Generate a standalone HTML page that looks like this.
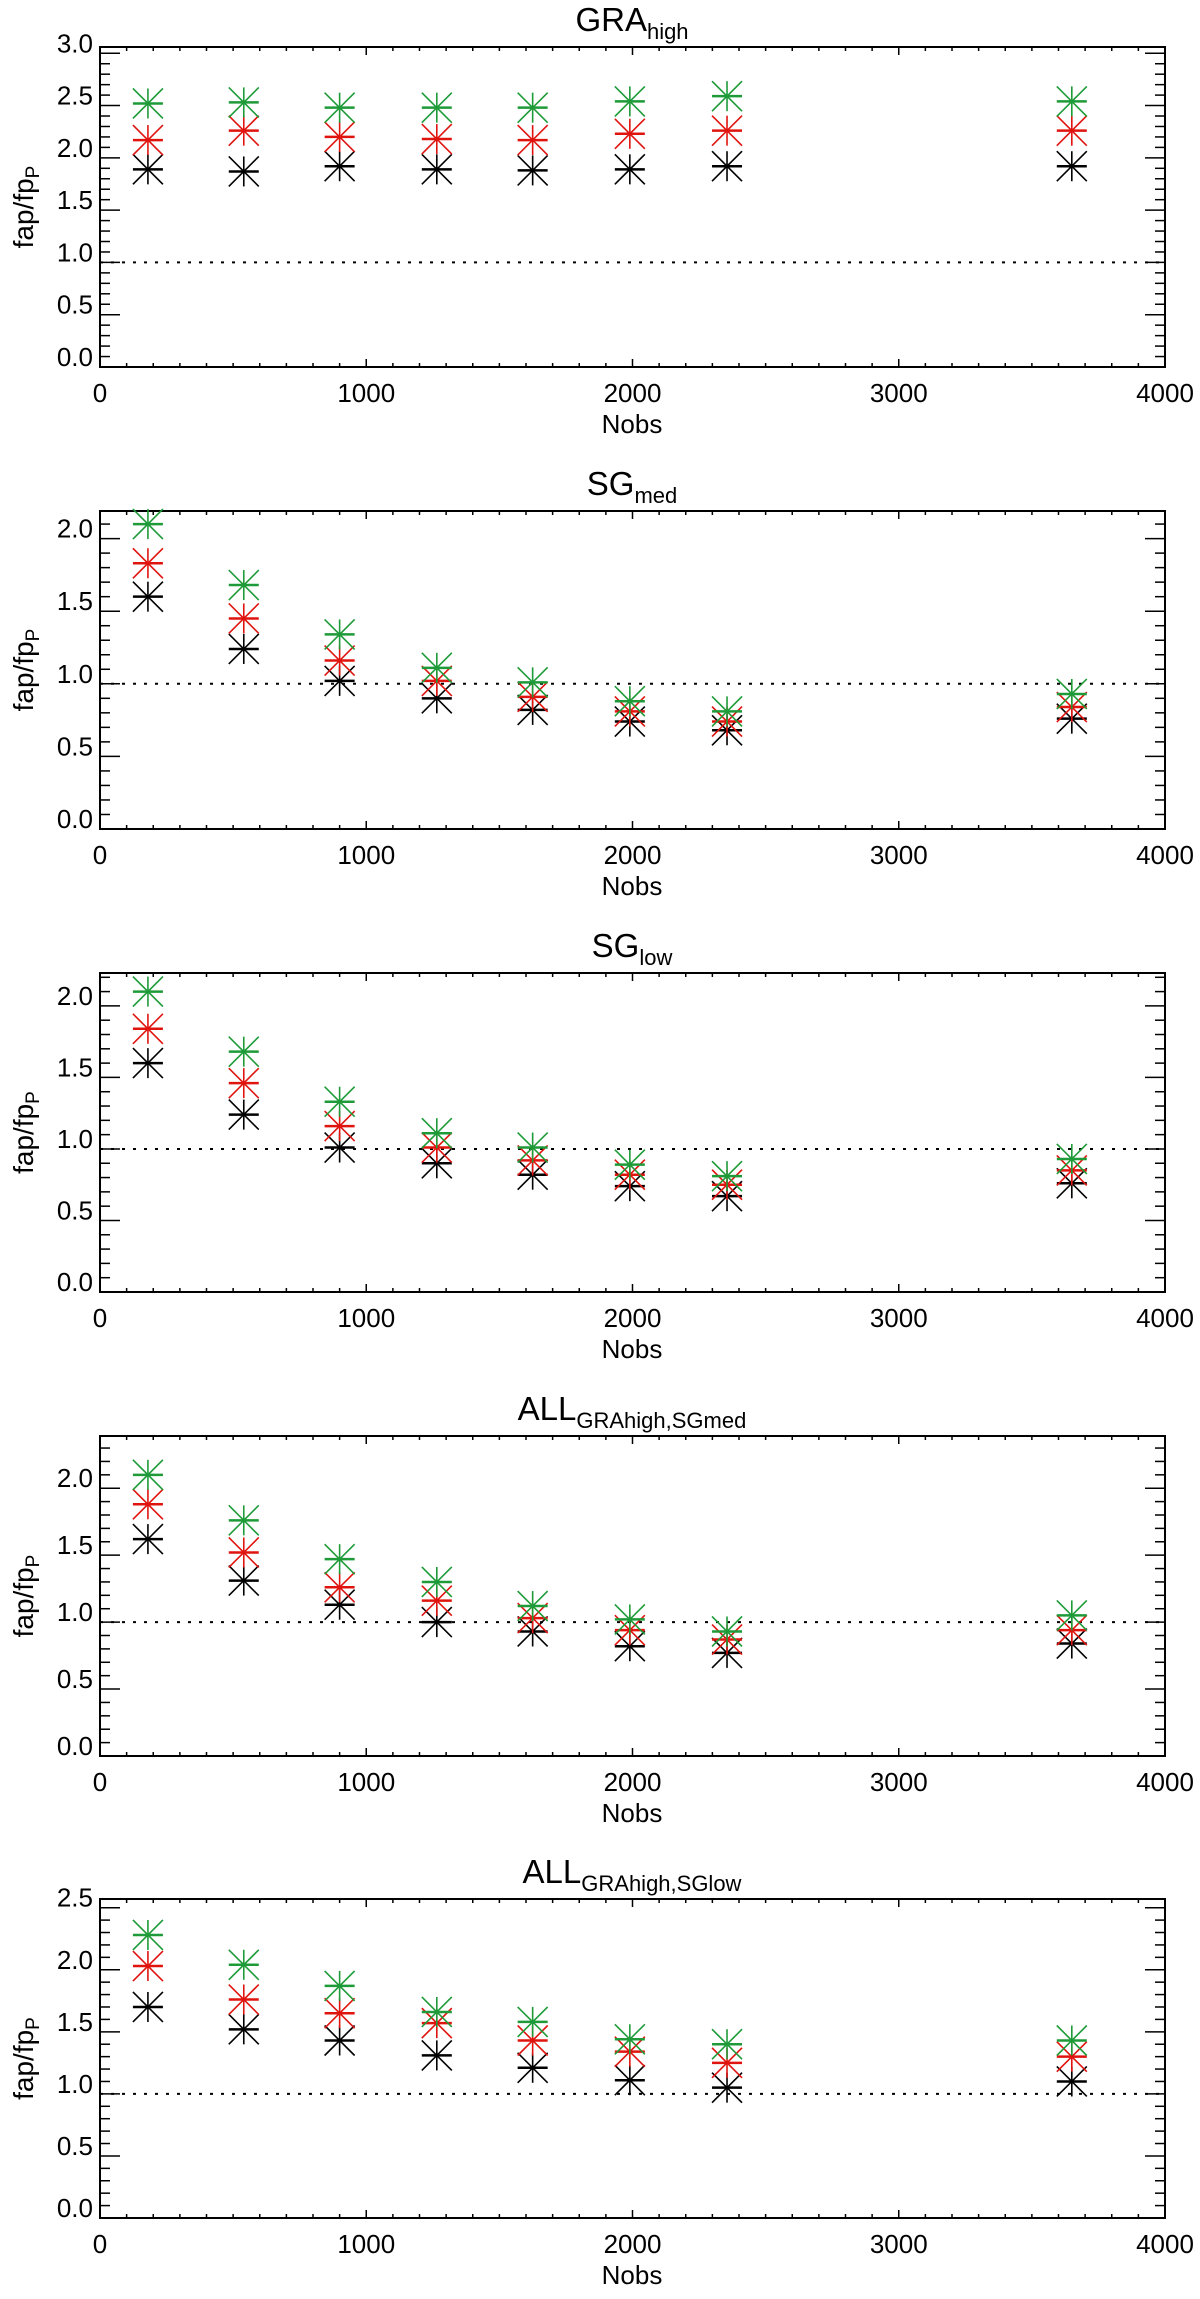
<!DOCTYPE html>
<html><head><meta charset="utf-8"><title>fap/fpP vs Nobs</title>
<style>html,body{margin:0;padding:0;background:#fff;}svg{display:block;}</style>
</head><body>
<svg id="chart" width="1200" height="2299" viewBox="0 0 1200 2299" xmlns="http://www.w3.org/2000/svg"></svg>
<script>
const nobs = [180, 540, 900, 1265, 1625, 1990, 2355, 3650];
const titleMain = ["GRA", "SG", "SG", "ALL", "ALL"];
const titleSub = ["high", "med", "low", "GRAhigh,SGmed", "GRAhigh,SGlow"];
const greenP1 = [2.52, 2.53, 2.48, 2.48, 2.48, 2.54, 2.59, 2.54];
const redP1   = [2.17, 2.26, 2.20, 2.18, 2.17, 2.23, 2.26, 2.26];
const blackP1 = [1.89, 1.87, 1.92, 1.89, 1.88, 1.89, 1.92, 1.92];
const greenP2 = [2.10, 1.68, 1.34, 1.11, 1.01, 0.88, 0.81, 0.93];
const redP2   = [1.83, 1.45, 1.16, 1.02, 0.91, 0.81, 0.74, 0.84];
const blackP2 = [1.60, 1.24, 1.02, 0.90, 0.82, 0.74, 0.68, 0.76];
const greenP3 = [2.10, 1.68, 1.33, 1.11, 1.01, 0.89, 0.81, 0.93];
const redP3   = [1.84, 1.46, 1.16, 1.01, 0.92, 0.82, 0.75, 0.85];
const blackP3 = [1.60, 1.24, 1.01, 0.90, 0.82, 0.74, 0.67, 0.76];
const greenP4 = [2.10, 1.76, 1.47, 1.30, 1.12, 1.02, 0.93, 1.05];
const redP4   = [1.88, 1.52, 1.26, 1.16, 1.03, 0.94, 0.87, 0.94];
const blackP4 = [1.62, 1.31, 1.13, 1.00, 0.93, 0.82, 0.77, 0.84];
const greenP5 = [2.28, 2.04, 1.87, 1.66, 1.58, 1.44, 1.40, 1.43];
const redP5   = [2.03, 1.76, 1.65, 1.57, 1.43, 1.34, 1.25, 1.30];
const blackP5 = [1.70, 1.52, 1.43, 1.31, 1.21, 1.11, 1.05, 1.10];
const yMaxes = [3.06, 2.19, 2.23, 2.39, 2.57];
const xTickLabels = ["0", "1000", "2000", "3000", "4000"];
const yTickLabels = ["0.0", "0.5", "1.0", "1.5", "2.0", "2.5", "3.0"];
const refLevel = 1.0;

const panels = [
  {top: 47, bottom: 367, g: greenP1, r: redP1, k: blackP1},
  {top: 511, bottom: 829, g: greenP2, r: redP2, k: blackP2},
  {top: 973, bottom: 1292, g: greenP3, r: redP3, k: blackP3},
  {top: 1436, bottom: 1756, g: greenP4, r: redP4, k: blackP4},
  {top: 1899, bottom: 2218, g: greenP5, r: redP5, k: blackP5}
];
const X0 = 100, X1 = 1165, XMAX = 4000;
const NS = "http://www.w3.org/2000/svg";
const svg = document.getElementById('chart');
function mk(tag, attrs, parent) {
  const e = document.createElementNS(NS, tag);
  for (const k in attrs) e.setAttribute(k, attrs[k]);
  (parent || svg).appendChild(e);
  return e;
}
function txt(parent, x, y, str, size, anchor) {
  const t = mk('text', {x: x, y: y, 'font-size': size, 'text-anchor': anchor,
    'font-family': '"Liberation Sans", sans-serif', fill: '#000'}, parent);
  t.textContent = str;
  return t;
}
const xs = v => X0 + v / XMAX * (X1 - X0);

panels.forEach((p, i) => {
  const ymax = yMaxes[i];
  const ys = v => p.bottom - v / ymax * (p.bottom - p.top);
  const pg = mk('g', {});
  
  

  const tt = mk('text', {x: 632, y: p.top - 16, 'font-size': 33, 'text-anchor': 'middle',
    'font-family': '"Liberation Sans", sans-serif', fill: '#000'}, pg);
  
  
  const m = mk('tspan', {}, tt); m.textContent = titleMain[i];
  const s = mk('tspan', {'font-size': 22, dy: 8}, tt); s.textContent = titleSub[i];

  const box = mk('rect', {x: X0, y: p.top, width: X1 - X0, height: p.bottom - p.top, fill: 'none', stroke: '#000', 'stroke-width': 2}, pg);
  
  

  for (let v = 0; v <= XMAX; v += 100) {
    const L = v % 1000 === 0 ? 8 : 4;
    mk('line', {x1: xs(v), x2: xs(v), y1: p.bottom, y2: p.bottom - L, stroke: '#000', 'stroke-width': 1.5}, pg);
    mk('line', {x1: xs(v), x2: xs(v), y1: p.top, y2: p.top + L, stroke: '#000', 'stroke-width': 1.5}, pg);
  }
  xTickLabels.forEach(lab => {
    const t = txt(pg, xs(+lab), p.bottom + 35, lab, 26, 'middle');
    
    
  });
  const xt = txt(pg, 632, p.bottom + 66, 'Nobs', 26, 'middle');
  
  

  for (let k = 0; k * 0.1 <= ymax + 1e-9; k++) {
    const v = k * 0.1;
    const L = k % 5 === 0 ? 20 : 10;
    mk('line', {x1: X0, x2: X0 + L, y1: ys(v), y2: ys(v), stroke: '#000', 'stroke-width': 1.5}, pg);
    mk('line', {x1: X1, x2: X1 - L, y1: ys(v), y2: ys(v), stroke: '#000', 'stroke-width': 1.5}, pg);
  }
  yTickLabels.forEach(lab => {
    if (+lab > ymax) return;
    const t = txt(pg, 93, ys(+lab) - 1, lab, 26, 'end');
    
    
  });
  const yc = (p.top + p.bottom) / 2;
  const yt = mk('text', {x: 0, y: 0, transform: 'translate(33,' + yc + ') rotate(-90)', 'font-size': 28, 'text-anchor': 'middle',
    'font-family': '"Liberation Sans", sans-serif', fill: '#000'}, pg);
  
  
  const a = mk('tspan', {}, yt); a.textContent = 'fap/fp';
  const b = mk('tspan', {'font-size': 19, dy: 6}, yt); b.textContent = 'P';

  const ref = mk('line', {x1: X0, x2: X1, y1: ys(refLevel), y2: ys(refLevel), stroke: '#000', 'stroke-width': 2, 'stroke-dasharray': '3,8'}, pg);
  
  

  [['series-black', p.k, '#000'], ['series-red', p.r, '#e0140f'], ['series-green', p.g, '#1e9b38']].forEach(([nm, arr, col]) => {
    const sg = mk('g', {stroke: col, 'stroke-width': 1.6}, pg);
    
    
    arr.forEach((v, j) => {
      const cx = xs(nobs[j]), cy = ys(v), h = 15;
      const mg = mk('g', {}, sg);
      
      
      mk('line', {x1: cx, x2: cx, y1: cy - h, y2: cy + h}, mg);
      mk('line', {x1: cx - h, x2: cx + h, y1: cy - h, y2: cy + h}, mg);
      mk('line', {x1: cx - h, x2: cx + h, y1: cy + h, y2: cy - h}, mg);
      mk('line', {x1: cx - h, x2: cx + h, y1: cy, y2: cy, 'stroke-width': 2.5}, mg);
    });
  });
});
</script>
</body></html>
